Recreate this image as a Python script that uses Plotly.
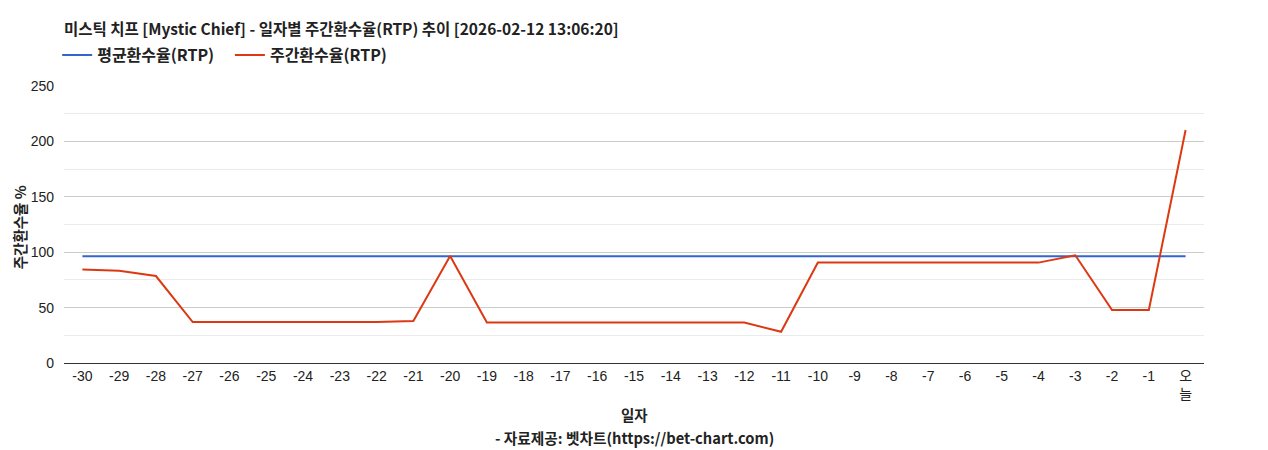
import plotly.graph_objects as go

# 일자 (x축 카테고리)
days = [str(d) for d in range(-30, 0)] + ["오<br>늘"]

# 주간환수율(RTP) 값 - 그림에서 읽은 값
weekly_rtp = [84.4, 83.2, 78.5, 37.0, 37.0, 37.0, 37.0, 37.0, 37.0, 38.0,
              96.5, 36.6, 36.6, 36.6, 36.6, 36.6, 36.6, 36.6, 36.6, 28.2,
              90.6, 90.6, 90.6, 90.6, 90.6, 90.6, 90.6, 97.2, 47.8, 47.8,
              210.3]

# 평균환수율(RTP)
avg_rtp = [96.3] * len(days)

y_ticks = [0, 50, 100, 150, 200, 250]

kr_font = "Noto Sans CJK KR"
tick_font = "Liberation Sans, Noto Sans CJK KR"

# page body has an 8px margin, so the figure is a bit smaller than the window
W, H = 1260, 442

fig = go.Figure()
fig.add_trace(go.Scatter(x=days, y=avg_rtp, mode="lines", name="<b>평균환수율(RTP)</b>\u00a0\u00a0\u00a0",
                         line=dict(color="#3366cc", width=2)))
fig.add_trace(go.Scatter(x=days, y=weekly_rtp, mode="lines", name="<b>주간환수율(RTP)</b>",
                         line=dict(color="#dc3912", width=2)))

fig.update_layout(
    width=W, height=H,
    margin=dict(l=56, r=64, t=78, b=87),
    plot_bgcolor="white", paper_bgcolor="white",
    title=dict(text="<b>미스틱 치프 [Mystic Chief] - 일자별 주간환수율(RTP) 추이 [2026-02-12 13:06:20]</b>",
               x=56 / W, xanchor="left", y=1 - 22 / H, yanchor="middle",
               font=dict(family=kr_font, size=15.5, color="#222")),
    legend=dict(orientation="h", x=-0.006, xanchor="left", y=1.112, yanchor="middle",
                font=dict(family=kr_font, size=16, color="#222"),
                itemwidth=30),
    showlegend=True,
    hovermode="x",
    xaxis=dict(type="category", range=[-0.5, 30.5], showgrid=False, showline=True,
               linecolor="#333", linewidth=1, ticks="",
               tickfont=dict(family=tick_font, size=14, color="#222"),
               tickangle=0, fixedrange=True),
    yaxis=dict(range=[0, 250], tickvals=y_ticks, showgrid=True, gridcolor="#cccccc",
               gridwidth=1, zeroline=False, ticks="", ticklabelstandoff=9,
               tickfont=dict(family=tick_font, size=14, color="#222"),
               minor=dict(dtick=25, showgrid=True, gridcolor="#ebebeb", gridwidth=1)),
)

fig.add_annotation(text="<b>주간환수율 %</b>", xref="paper", yref="paper", x=-0.0395, y=0.49,
                   xanchor="center", yanchor="middle", textangle=-90, showarrow=False,
                   font=dict(family=kr_font, size=14.5, color="#222"))
fig.add_annotation(text="<b>일자</b>", xref="paper", yref="paper", x=0.5, y=-51 / 277,
                   yanchor="middle", showarrow=False, font=dict(family=kr_font, size=14.5, color="#222"))
fig.add_annotation(text="<b>- 자료제공: 벳차트(https://bet-chart.com)</b>", xref="paper", yref="paper",
                   x=0.5, y=-74 / 277, yanchor="middle", showarrow=False,
                   font=dict(family=kr_font, size=14.7, color="#222"))

fig.write_html("out.html")
